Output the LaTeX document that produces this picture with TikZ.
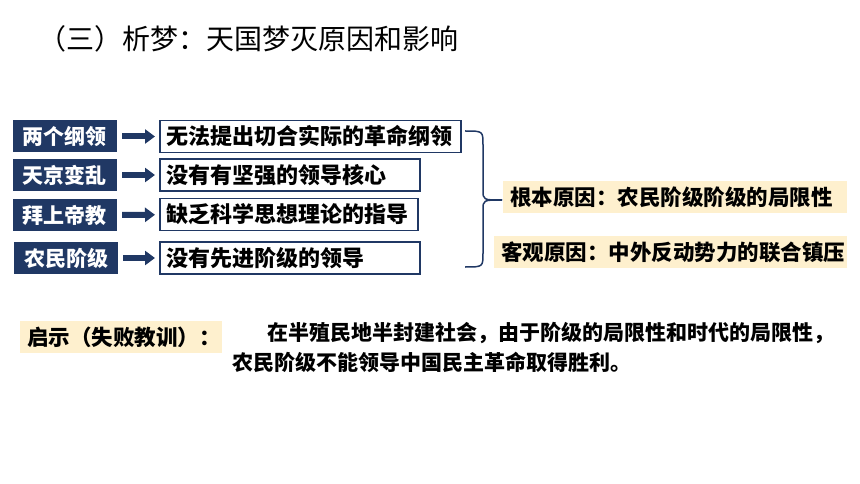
\documentclass[tikz,border=0pt]{standalone}
\usepackage{fontspec}
\usepackage{tikz}
\usetikzlibrary{arrows.meta}
\newfontfamily\cjk{Noto Sans CJK SC}
\definecolor{navy}{RGB}{32,56,100}
\definecolor{tan}{RGB}{254,240,206}
\tikzset{
  cause/.style={fill=navy, text=white, font=\cjk\bfseries\fontsize{21}{24}\selectfont,
    minimum width=104pt, minimum height=32pt, inner sep=0pt},
  reason/.style={draw=navy, line width=1.5pt, anchor=west, font=\cjk\bfseries\fontsize{22}{25}\selectfont,
    minimum height=32pt, inner xsep=7pt, inner ysep=0pt, text width=#1, align=left},
  verdict/.style={fill=tan, anchor=west, font=\cjk\bfseries\fontsize{21.5}{25}\selectfont,
    minimum height=32pt, inner xsep=7pt, inner ysep=0pt, text width=#1, align=left},
  link/.style={navy, line width=6pt, -{Triangle[length=10pt,width=14pt]},
    shorten <=5pt, shorten >=4pt}
}
\begin{document}
\begin{tikzpicture}[x=1pt,y=-1pt]
  \useasboundingbox[fill=white] (0,0) rectangle (860,484);
  % title
  \node[anchor=west, inner sep=0pt, font=\cjk\fontsize{28}{32}\selectfont] (title) at (38,39)
    {（三）析梦：天国梦灭原因和影响};
  % causes
  \node[cause] (d1) at (65,136.5) {两个纲领};
  \node[cause] (d2) at (65,175) {天京变乱};
  \node[cause] (d3) at (65,215) {拜上帝教};
  \node[cause] (d4) at (66,258) {农民阶级};
  \node[reason=287pt] (w1) at (159,136.5) {无法提出切合实际的革命纲领};
  \node[reason=246pt] (w2) at (159,175) {没有有坚强的领导核心};
  \node[reason=244pt] (w3) at (159,214.5) {缺乏科学思想理论的指导};
  \node[reason=246pt] (w4) at (159,258) {没有先进阶级的领导};
  \draw[link] (d1) -- (w1);
  \draw[link] (d2) -- (w2);
  \draw[link] (d3) -- (w3);
  \draw[link] (d4) -- (w4);
  % brace
  \draw[navy, line width=1.5pt] (465,131) .. controls (483,131) .. (483,145) -- (483,190)
    .. controls (483,200) .. (502,200);
  \draw[navy, line width=1.5pt] (465,267) .. controls (483,267) .. (483,253) -- (483,210)
    .. controls (483,200) .. (502,200);
  \node[verdict=330pt] (root) at (503,197) {根本原因：农民阶级阶级的局限性};
  \node[verdict=339pt] (outer) at (494,252) {客观原因：中外反动势力的联合镇压};
  % lesson
  \node[verdict=188pt] (hint) at (20,337) {启示（失败教训）：};
  \node[anchor=west, inner sep=0pt, align=left, font=\cjk\bfseries\fontsize{21}{30}\selectfont] (lesson) at (232,347)
    {\hspace*{35pt}在半殖民地半封建社会，由于阶级的局限性和时代的局限性，\\
     农民阶级不能领导中国民主革命取得胜利。};
\end{tikzpicture}
\end{document}
